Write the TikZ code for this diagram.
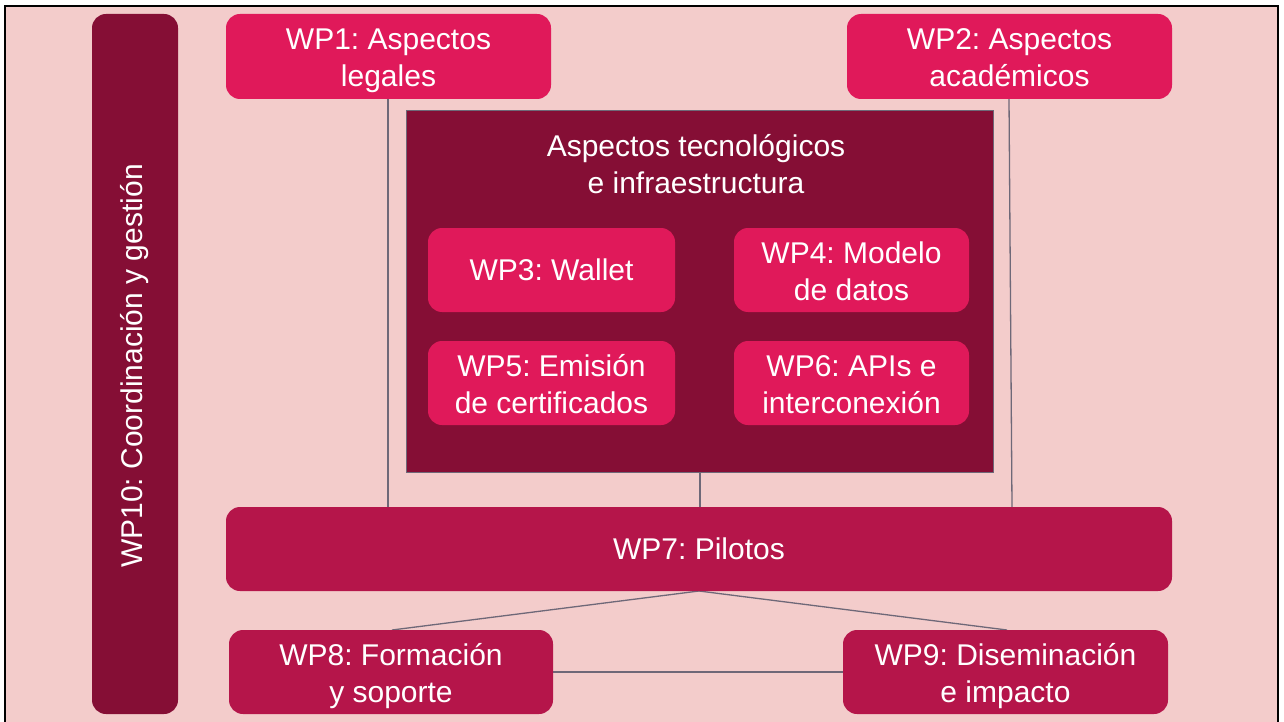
\documentclass[tikz,border=0pt]{standalone}
\usepackage{fontspec}
\setmainfont{Liberation Sans}
\frenchspacing
\pgfdeclarelayer{bg}
\pgfdeclarelayer{lines}
\pgfsetlayers{bg,lines,main}
\definecolor{bgpink}{HTML}{F3CCCB}
\definecolor{darkwine}{HTML}{850E35}
\definecolor{brightred}{HTML}{E0195A}
\definecolor{midred}{HTML}{B5154A}
\definecolor{linegray}{HTML}{6E6878}
\tikzset{
  wpbox/.style={rounded corners=14pt, text=white, align=center, inner sep=0pt,
    font=\fontsize{30}{37}\selectfont},
  twoline/.style={text height=60pt, text depth=0pt},
  topbox/.style={wpbox, fill=brightred},
  lowbox/.style={wpbox, fill=midred},
  conn/.style={draw=linegray, line width=1.3pt},
}
\begin{document}
\begin{tikzpicture}[x=1pt,y=-1pt]
\useasboundingbox (0,0) rectangle (1284,722);
\begin{pgfonlayer}{bg}
  \fill[white] (0,0) rectangle (1284,722);
  \fill[bgpink] (5,6) rectangle (1278,730);
  \draw[black, line width=2.5pt] (5,730) -- (5,6) -- (1278,6) -- (1278,730);
\end{pgfonlayer}

\node[wpbox, fill=darkwine, minimum width=86pt, minimum height=700pt] (wp10) at (135,364) {};
\node[text=white, rotate=90, font=\fontsize{30}{37}\selectfont] (wp10t) at ([yshift=-2pt]wp10.center) {WP10: Coordinación y gestión};

\node[topbox, twoline, minimum width=325pt, minimum height=85pt] (wp1) at (388.5,56.5) {WP1: Aspectos\\legales};
\node[topbox, twoline, minimum width=325pt, minimum height=85pt] (wp2) at (1009.5,56.5) {WP2: Aspectos\\académicos};

\node[fill=darkwine, draw=linegray, line width=1pt, minimum width=587pt, minimum height=361pt, inner sep=0pt] (tech) at (699.5,291.5) {};
\node[text=white, align=center, font=\fontsize{30}{37}\selectfont] (techt) at (696,164.5) {Aspectos tecnológicos\\e infraestructura};

\node[topbox, minimum width=247pt, minimum height=84pt] (wp3) at (551.5,270) {WP3: Wallet};
\node[topbox, twoline, minimum width=235pt, minimum height=84pt] (wp4) at (851.5,270) {WP4: Modelo\\de datos};
\node[topbox, twoline, minimum width=247pt, minimum height=84pt] (wp5) at (551.5,383) {WP5: Emisión\\de certificados};
\node[topbox, twoline, minimum width=235pt, minimum height=84pt] (wp6) at (851.5,383) {WP6: APIs e\\interconexión};

\node[lowbox, minimum width=946pt, minimum height=84pt] (wp7) at (699,549) {WP7: Pilotos};
\node[lowbox, twoline, minimum width=324pt, minimum height=84pt] (wp8) at (391,672) {WP8: Formación\\y soporte};
\node[lowbox, twoline, minimum width=325pt, minimum height=84pt] (wp9) at (1005.5,672) {WP9: Diseminación\\e impacto};

\coordinate (p1) at (388,99);
\coordinate (p2) at (1009,99);
\coordinate (p2b) at (1012,507);
\coordinate (pt) at (700,472);
\coordinate (p7b) at (699,591);
\coordinate (p8t) at (392,630);
\coordinate (p9t) at (1007,630);
\begin{pgfonlayer}{lines}
  \draw[conn] (p1) -- (p1 |- wp7.north);
  \draw[conn] (p2) -- (p2b);
  \draw[conn] (pt) -- (pt |- wp7.north);
  \draw[conn] (p8t) -- (p7b) -- (p9t);
  \draw[conn] (wp8.east) -- (wp9.west);
\end{pgfonlayer}
\end{tikzpicture}
\end{document}
